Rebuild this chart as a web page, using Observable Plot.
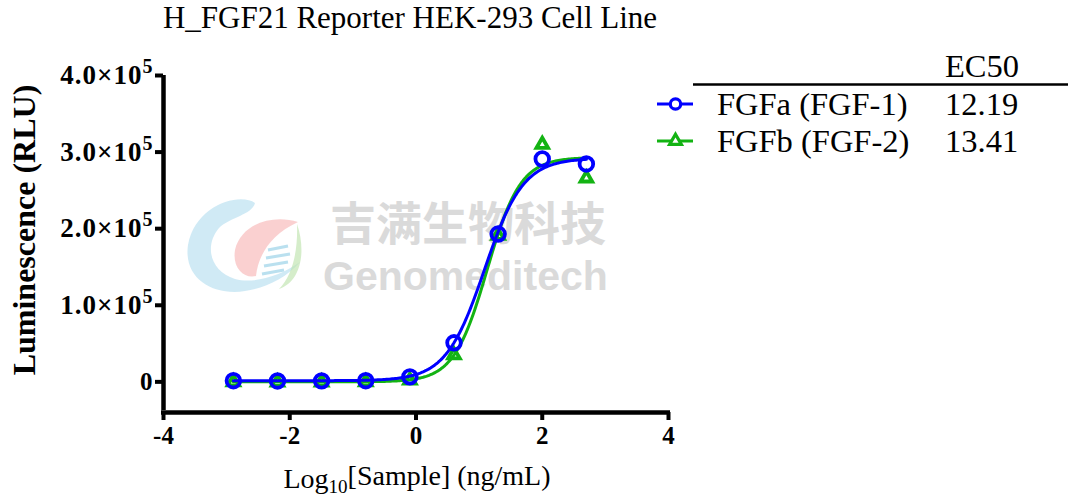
<!DOCTYPE html>
<html>
<head>
<meta charset="utf-8">
<script src="https://cdn.jsdelivr.net/npm/d3@7"></script>
<script src="https://cdn.jsdelivr.net/npm/@observablehq/plot@0.6"></script>
<style>
  body { margin: 0; background: #fff; }
  #wrap { position: relative; width: 1068px; height: 498px; overflow: hidden; background: #fff; }
  #wrap > svg { position: absolute; left: 0; top: 0; }
</style>
</head>
<body>
<div id="wrap"></div>
<script>
// ---------- data ----------
const titleText = "H_FGF21 Reporter HEK-293 Cell Line";
const seriesNames = ["FGFa (FGF-1)", "FGFb (FGF-2)"];
const seriesColors = ["#0000ff", "#13b313"];
const ec50 = [12.19, 13.41];                  // ng/mL, from the legend
const logDose = [-2.893, -2.194, -1.495, -0.796, -0.097, 0.602, 1.301, 2.0, 2.699];
const fgfaRLU = [1500, 1200, 1300, 1500, 6500, 51000, 193000, 291000, 284500];
const fgfbRLU = [-300, -600, -400, -200, 2000, 35000, 191000, 310000, 266000];
// 4-parameter logistic fit parameters (estimated from the drawn curves)
const fitBottom = [1500, 0];
const fitTop = [292000, 293000];
const fitHill = [1.42, 1.65];
const xTicks = [-4, -2, 0, 2, 4];
const xTickLabels = ["-4", "-2", "0", "2", "4"];
const yTicks = [0, 100000, 200000, 300000, 400000];
const yTickLabels = ["0", "1.0×10⁵", "2.0×10⁵", "3.0×10⁵", "4.0×10⁵"];

// ---------- tables ----------
const points = [
  ...logDose.map((x, i) => ({x, y: fgfaRLU[i], s: seriesNames[0]})),
  ...logDose.map((x, i) => ({x, y: fgfbRLU[i], s: seriesNames[1]}))
];
const curveFor = (k) => {
  const lo = d3.min(logDose), hi = d3.max(logDose), n = 240, le = Math.log10(ec50[k]);
  return d3.range(n + 1).map(j => {
    const x = lo + (hi - lo) * j / n;
    return {x, y: fitBottom[k] + (fitTop[k] - fitBottom[k]) / (1 + Math.pow(10, (le - x) * fitHill[k])), s: seriesNames[k]};
  });
};
const curveA = curveFor(0), curveB = curveFor(1);

const wrap = document.getElementById("wrap");
const serif = "'Liberation Serif', 'Times New Roman', serif";

// ---------- watermark (behind) ----------
const wm = d3.create("svg").attr("width", 1068).attr("height", 498);
wm.append("path").attr("d", "M 255 203 C 240 192, 195 205, 188 245 C 183 280, 215 296, 245 291 C 265 288, 285 279, 300 262 C 280 276, 255 284, 235 279 C 210 271, 204 246, 219 228 C 230 217, 252 215, 255 203 Z")
  .attr("fill", "#a9d9ec").attr("opacity", 0.55);
wm.append("path").attr("d", "M 298 222 C 272 214, 241 224, 235 250 C 232 268, 244 279, 256 276 C 258 256, 270 235, 298 222 Z")
  .attr("fill", "#f5a9a9").attr("opacity", 0.55);
wm.append("path").attr("d", "M 297 224 C 306 250, 302 281, 279 289 C 293 275, 298 250, 297 224 Z")
  .attr("fill", "#bfe4ad").attr("opacity", 0.65);
[[268, 250, 288, 246], [266, 258, 290, 254], [264, 266, 288, 262], [262, 274, 284, 270]].forEach(([x1, y1, x2, y2]) =>
  wm.append("line").attr("x1", x1).attr("y1", y1).attr("x2", x2).attr("y2", y2).attr("stroke", "#a9d9ec").attr("stroke-width", 3).attr("opacity", 0.8));
wm.append("text").attr("x", 330).attr("y", 240).attr("font-family", "'Noto Sans CJK SC', sans-serif").attr("font-weight", 700)
  .attr("font-size", 46).attr("fill", "#dadada").text("吉满生物科技");
wm.append("text").attr("x", 323).attr("y", 290).attr("font-family", "'Liberation Sans', Arial, sans-serif").attr("font-weight", 700)
  .attr("font-size", 41).attr("fill", "#dadada").text("Genomeditech");
wrap.append(wm.node());

// ---------- chart ----------
const chart = Plot.plot({
  width: 1068,
  height: 498,
  marginLeft: 163,
  marginRight: 400,
  marginTop: 75,
  marginBottom: 86,
  style: {background: "transparent", fontFamily: serif, color: "black"},
  x: {domain: [-4, 4]},
  y: {domain: [-40000, 400000]},
  marks: [
    Plot.axisX({ticks: xTicks, tickFormat: d => xTickLabels[xTicks.indexOf(d)], tickSize: 8, tickPadding: 6,
      strokeWidth: 4, label: null}),
    Plot.axisY({ticks: yTicks, tickFormat: d => yTickLabels[yTicks.indexOf(d)], tickSize: 8, tickPadding: 3,
      strokeWidth: 4, label: null}),
    Plot.ruleX([-4], {y1: -40000, y2: 400000, strokeWidth: 4.5, stroke: "black", insetTop: -2}),
    Plot.ruleY([-40000], {x1: -4, x2: 4, strokeWidth: 4.5, stroke: "black", insetLeft: -2, insetRight: -2}),
    Plot.line(curveB, {x: "x", y: "y", stroke: seriesColors[1], strokeWidth: 3}),
    Plot.dot(points.filter(d => d.s === seriesNames[1]), {x: "x", y: "y", symbol: "triangle", r: 4.3, stroke: seriesColors[1], strokeWidth: 3.8, fill: "none"}),
    Plot.line(curveA, {x: "x", y: "y", stroke: seriesColors[0], strokeWidth: 3}),
    Plot.dot(points.filter(d => d.s === seriesNames[0]), {x: "x", y: "y", symbol: "circle", r: 6.8, stroke: seriesColors[0], strokeWidth: 3.8, fill: "none"})
  ]
});
wrap.append(chart);

// axis tick label fonts (the only texts in the plot SVG are tick labels)
d3.select(chart).selectAll("text").style("font-weight", "bold").style("font-family", serif).style("font-size", "25px");
// y tick labels: larger, with a raised exponent
d3.select(chart).selectAll("text").each(function () {
  const t = this.textContent;
  if (t.includes("×10")) {
    const m = t.split("×10")[0];
    const sel = d3.select(this);
    sel.style("font-size", "27px").style("letter-spacing", "1px");
    sel.text(m + "×10");
    sel.append("tspan").attr("dy", "-11px").style("font-size", "20px").style("letter-spacing", "0px")
      .text(t.slice(t.indexOf("×10") + 3).replace("⁵", "5"));
  } else if (t === "0" && this.getAttribute("text-anchor") === "end") {
    d3.select(this).style("font-size", "27px");
  }
});

// ---------- annotations (on top) ----------
const ann = d3.create("svg").attr("width", 1068).attr("height", 498).style("font-family", serif).style("pointer-events", "none");
ann.append("text").attr("x", 410).attr("y", 28).attr("text-anchor", "middle").attr("font-size", 31).text(titleText);
ann.append("text").attr("transform", "translate(35,230) rotate(-90)").attr("text-anchor", "middle")
  .attr("font-size", 32).attr("font-weight", "bold").text("Luminescence (RLU)");
const xl = ann.append("text").attr("x", 417).attr("y", 488).attr("text-anchor", "middle").attr("font-size", 28);
xl.append("tspan").text("Log");
xl.append("tspan").attr("dy", "0.28em").attr("font-size", "0.68em").text("10");
xl.append("tspan").attr("dy", "-0.28em").text("[Sample] (ng/mL)");

// legend table
ann.append("text").attr("x", 945).attr("y", 77).attr("font-size", 32.5).text("EC50");
ann.append("line").attr("x1", 693).attr("x2", 1068).attr("y1", 84.5).attr("y2", 84.5).attr("stroke", "black").attr("stroke-width", 2.5);
const rowY = [115, 152];
seriesNames.forEach((name, i) => {
  const cy = rowY[i] - 11;
  ann.append("line").attr("x1", 657).attr("x2", 693).attr("y1", cy).attr("y2", cy).attr("stroke", seriesColors[i]).attr("stroke-width", 3);
  if (i === 0) {
    ann.append("circle").attr("cx", 675.5).attr("cy", cy).attr("r", 5.2).attr("fill", "white").attr("stroke", seriesColors[i]).attr("stroke-width", 3.2);
  } else {
    const s = d3.symbol(d3.symbolTriangle, 60)();
    ann.append("path").attr("d", s).attr("transform", `translate(675.5,${cy})`).attr("fill", "white").attr("stroke", seriesColors[i]).attr("stroke-width", 3.2);
  }
  ann.append("text").attr("x", 717).attr("y", rowY[i]).attr("font-size", 32.5).text(name);
  ann.append("text").attr("x", 945).attr("y", rowY[i]).attr("font-size", 32.5).text(ec50[i].toFixed(2));
});
wrap.append(ann.node());
</script>
</body>
</html>
